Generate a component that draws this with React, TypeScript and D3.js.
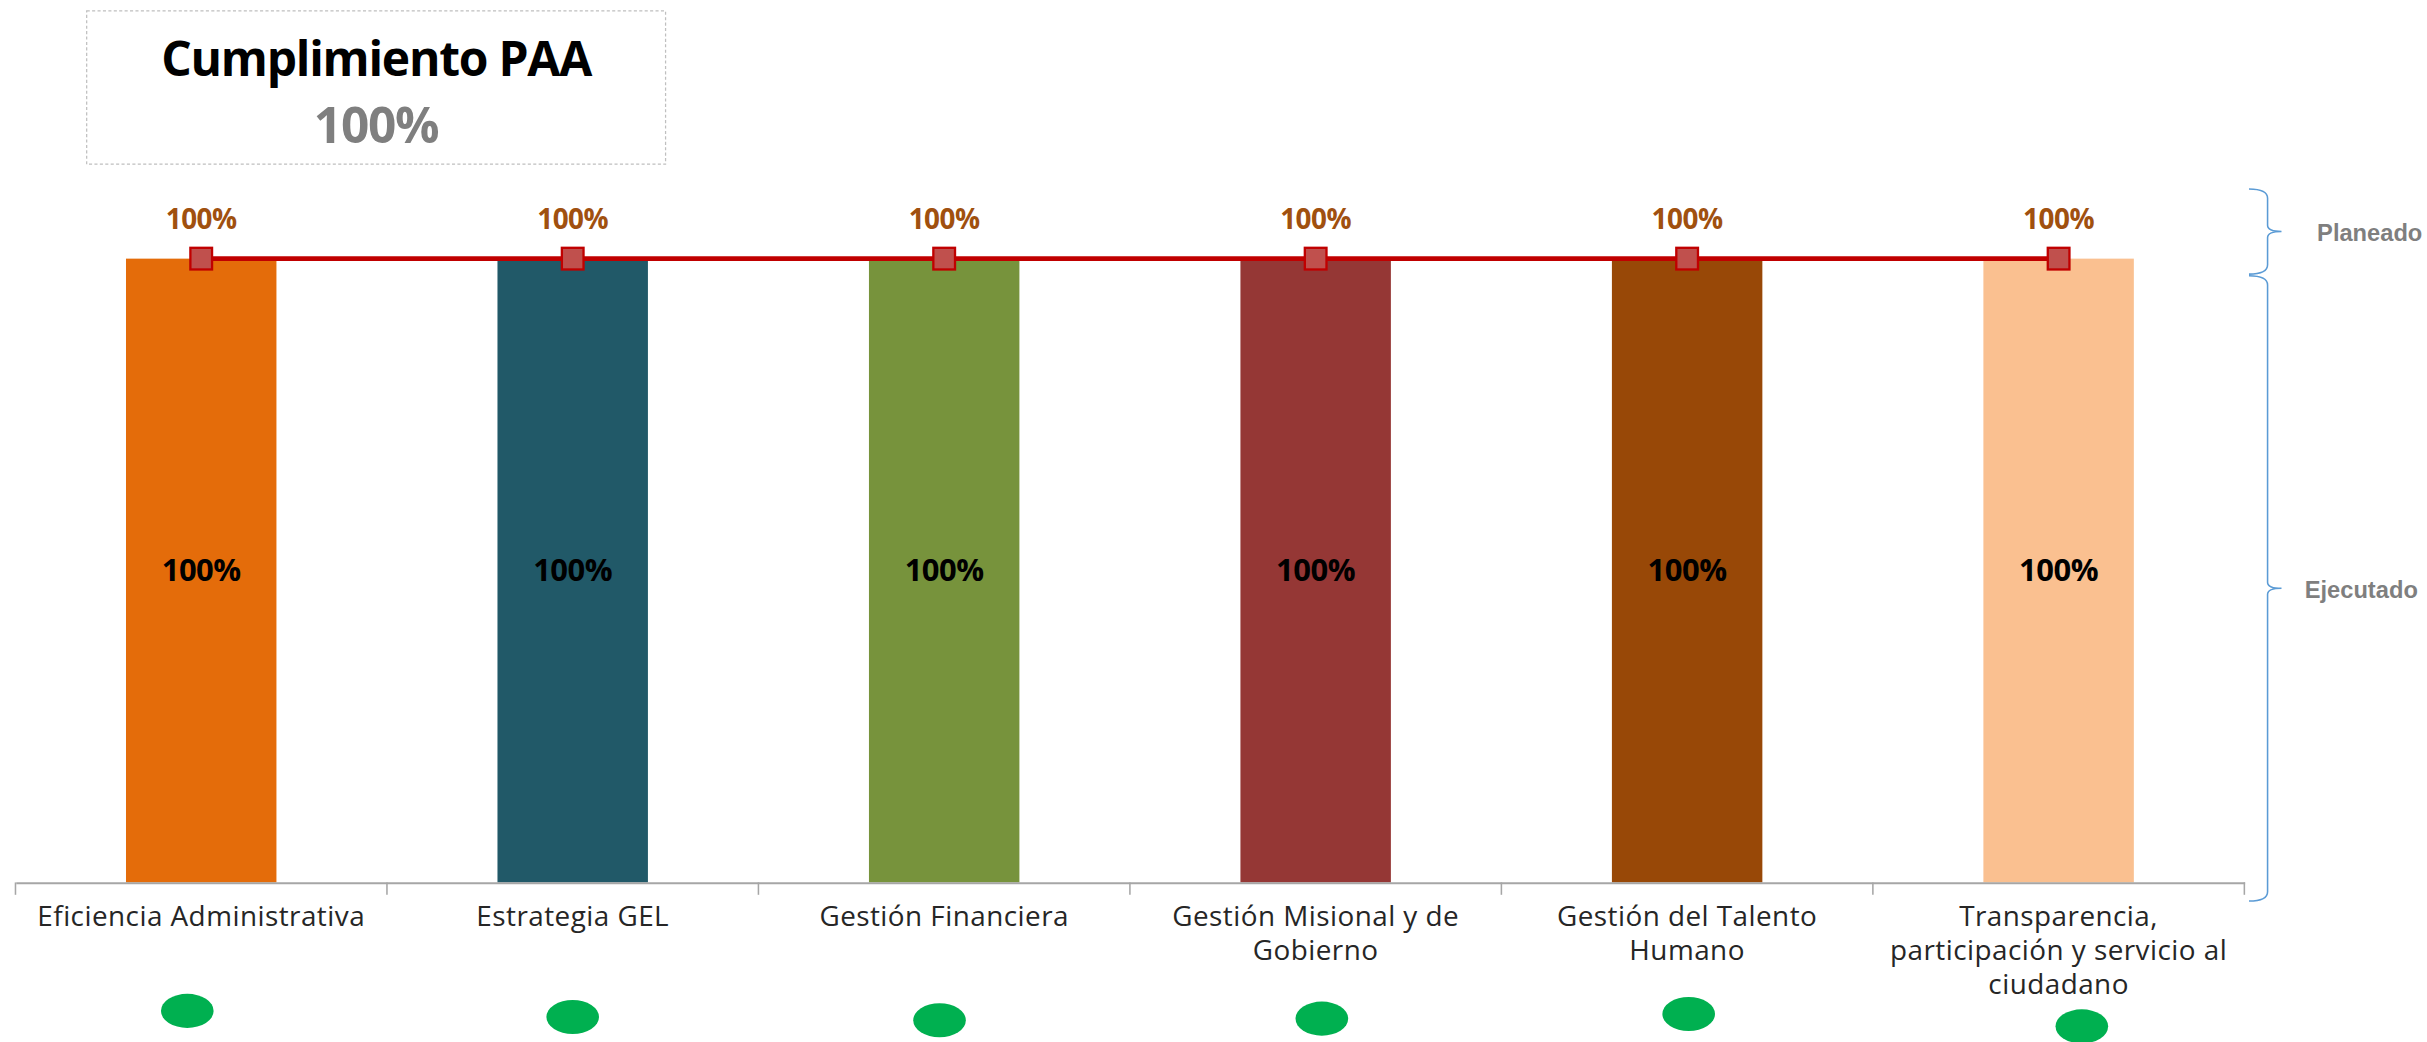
import { useEffect, useRef } from 'react';
import * as d3 from 'd3';

// Data
const categories = [
  ['Eficiencia Administrativa'],
  ['Estrategia GEL'],
  ['Gestión Financiera'],
  ['Gestión Misional y de', 'Gobierno'],
  ['Gestión del Talento', 'Humano'],
  ['Transparencia,', 'participación y servicio al', 'ciudadano'],
];
const ejecutado = [1, 1, 1, 1, 1, 1];
const planeado = [1, 1, 1, 1, 1, 1];
const barColors = ['#E46C0A', '#215968', '#77933C', '#953735', '#984807', '#FAC090'];
const status = ['ok', 'ok', 'ok', 'ok', 'ok', 'ok'];
const totalCumplimiento = 1;

// layout (view coords, scaled up to 2427x1042)
const W = 1568;
const H = 673;
const left = 10;
const right = 1450;
const top = 167;
const bottom = 570;
const dotShift = [-4, 0, 2, 1, -2, 6];
const dotDx = [-9, 0, -3, 4, 1, 15];

const labelFont = "'Open Sans', 'Noto Sans', sans-serif";
const pct = d3.format('.0%');

function drawChart(el: SVGSVGElement) {
  const svg = d3.select(el);
  svg.selectAll('*').remove();

  const names = categories.map(c => c.join(' '));
  const x = d3.scaleBand().domain(names).range([left, right]).paddingInner(0).paddingOuter(0);
  const y = d3.scaleLinear().domain([0, 1]).range([bottom, top]);
  const barW = x.bandwidth() * 0.405;
  const cx = (i: number) => (x(names[i]) as number) + x.bandwidth() / 2;

  // title box
  const tb = svg.append('g');
  tb.append('rect')
    .attr('x', 56).attr('y', 7).attr('width', 374).attr('height', 99)
    .attr('fill', 'none').attr('stroke', '#BFBFBF').attr('stroke-width', 0.8)
    .attr('stroke-dasharray', '2,1.5');
  tb.append('text')
    .attr('x', 243).attr('y', 49).attr('text-anchor', 'middle')
    .attr('font-family', labelFont).attr('font-weight', 700).attr('font-size', 31)
    .attr('letter-spacing', -0.8)
    .attr('fill', '#000').text('Cumplimiento PAA');
  tb.append('text')
    .attr('x', 243).attr('y', 92).attr('text-anchor', 'middle')
    .attr('font-family', labelFont).attr('font-weight', 700).attr('font-size', 32)
    .attr('letter-spacing', -0.8)
    .attr('fill', '#7F7F7F').text(pct(totalCumplimiento));

  // bars
  svg.append('g').selectAll('rect')
    .data(ejecutado)
    .join('rect')
    .attr('x', (d, i) => cx(i) - barW / 2)
    .attr('y', d => y(d))
    .attr('width', barW)
    .attr('height', d => bottom - y(d))
    .attr('fill', (d, i) => barColors[i]);

  // bar value labels
  svg.append('g').selectAll('text')
    .data(ejecutado)
    .join('text')
    .attr('x', (d, i) => cx(i))
    .attr('y', d => y(d / 2) + 7)
    .attr('text-anchor', 'middle')
    .attr('font-family', labelFont).attr('font-weight', 700).attr('font-size', 20)
    .attr('letter-spacing', -0.3)
    .attr('fill', '#000')
    .text(d => pct(d));

  // x axis
  const axis = svg.append('g').attr('transform', `translate(0,${bottom})`)
    .call(d3.axisBottom(x).tickValues([]).tickSizeOuter(0));
  axis.select('.domain').attr('stroke', '#A6A6A6').attr('stroke-width', 1.3);
  const bounds = d3.range(names.length + 1).map(i => left + i * x.bandwidth());
  axis.selectAll('line.bound')
    .data(bounds)
    .join('line')
    .attr('class', 'bound')
    .attr('x1', d => d).attr('x2', d => d)
    .attr('y1', 0).attr('y2', 8)
    .attr('stroke', '#A6A6A6').attr('stroke-width', 1);

  // category labels
  const lbl = svg.append('g').selectAll('text')
    .data(categories)
    .join('text')
    .attr('x', (d, i) => cx(i))
    .attr('y', 598)
    .attr('text-anchor', 'middle')
    .attr('font-family', labelFont).attr('font-size', 18)
    .attr('letter-spacing', 0.3)
    .attr('fill', '#262626');
  lbl.selectAll('tspan')
    .data(d => d)
    .join('tspan')
    .attr('x', function () { return (this.parentNode as SVGTextElement).getAttribute('x'); })
    .attr('dy', (d, i) => (i === 0 ? 0 : 22))
    .text(d => d);

  // planned line
  const line = d3.line<number>()
    .x((d, i) => cx(i))
    .y(d => y(d));
  svg.append('path')
    .datum(planeado)
    .attr('d', line)
    .attr('fill', 'none')
    .attr('stroke', '#C00000')
    .attr('stroke-width', 3);
  svg.append('g').selectAll('rect')
    .data(planeado)
    .join('rect')
    .attr('x', (d, i) => cx(i) - 7)
    .attr('y', d => y(d) - 7)
    .attr('width', 14).attr('height', 14)
    .attr('fill', '#C0504D')
    .attr('stroke', '#C00000').attr('stroke-width', 1.5);
  svg.append('g').selectAll('text')
    .data(planeado)
    .join('text')
    .attr('x', (d, i) => cx(i))
    .attr('y', d => y(d) - 19)
    .attr('text-anchor', 'middle')
    .attr('font-family', labelFont).attr('font-weight', 700).attr('font-size', 18)
    .attr('letter-spacing', -0.3)
    .attr('fill', '#A0500F')
    .text(d => pct(d));

  // status dots
  svg.append('g').selectAll('ellipse')
    .data(status)
    .join('ellipse')
    .attr('cx', (d, i) => cx(i) + dotDx[i])
    .attr('cy', (d, i) => 657 + dotShift[i])
    .attr('rx', 17).attr('ry', 11)
    .attr('fill', d => (d === 'ok' ? '#00B050' : '#FF0000'));

  // braces
  const brace = (y0: number, y1: number) => {
    const xa = 1453, xb = 1465, xt = 1474;
    const ym = (y0 + y1) / 2;
    return `M${xa},${y0} Q${xb},${y0} ${xb},${y0 + 6} L${xb},${ym - 4} Q${xb},${ym} ${xt},${ym}`
      + ` Q${xb},${ym} ${xb},${ym + 4} L${xb},${y1 - 6} Q${xb},${y1} ${xa},${y1}`;
  };
  const braces = [
    { y0: 122, y1: 177, label: 'Planeado', lx: 1497 },
    { y0: 178, y1: 582, label: 'Ejecutado', lx: 1489 },
  ];
  const bg = svg.append('g');
  bg.selectAll('path')
    .data(braces)
    .join('path')
    .attr('d', d => brace(d.y0, d.y1))
    .attr('fill', 'none')
    .attr('stroke', '#5B9BD5')
    .attr('stroke-width', 1);
  bg.selectAll('text')
    .data(braces)
    .join('text')
    .attr('x', d => d.lx)
    .attr('y', d => (d.y0 + d.y1) / 2 + 6)
    .attr('font-family', "'Liberation Sans Narrow', 'Liberation Sans', Arial, sans-serif")
    .attr('font-weight', 700).attr('font-size', 15.3)
    .attr('fill', '#7F7F7F')
    .text(d => d.label);
}

export default function App() {
  const ref = useRef<SVGSVGElement>(null);
  useEffect(() => {
    document.body.style.margin = '0';
    if (ref.current) drawChart(ref.current);
  }, []);
  return (
    <svg ref={ref} width={2427} height={1042} viewBox={`0 0 ${W} ${H}`}
      style={{ display: 'block', background: '#fff' }} />
  );
}
